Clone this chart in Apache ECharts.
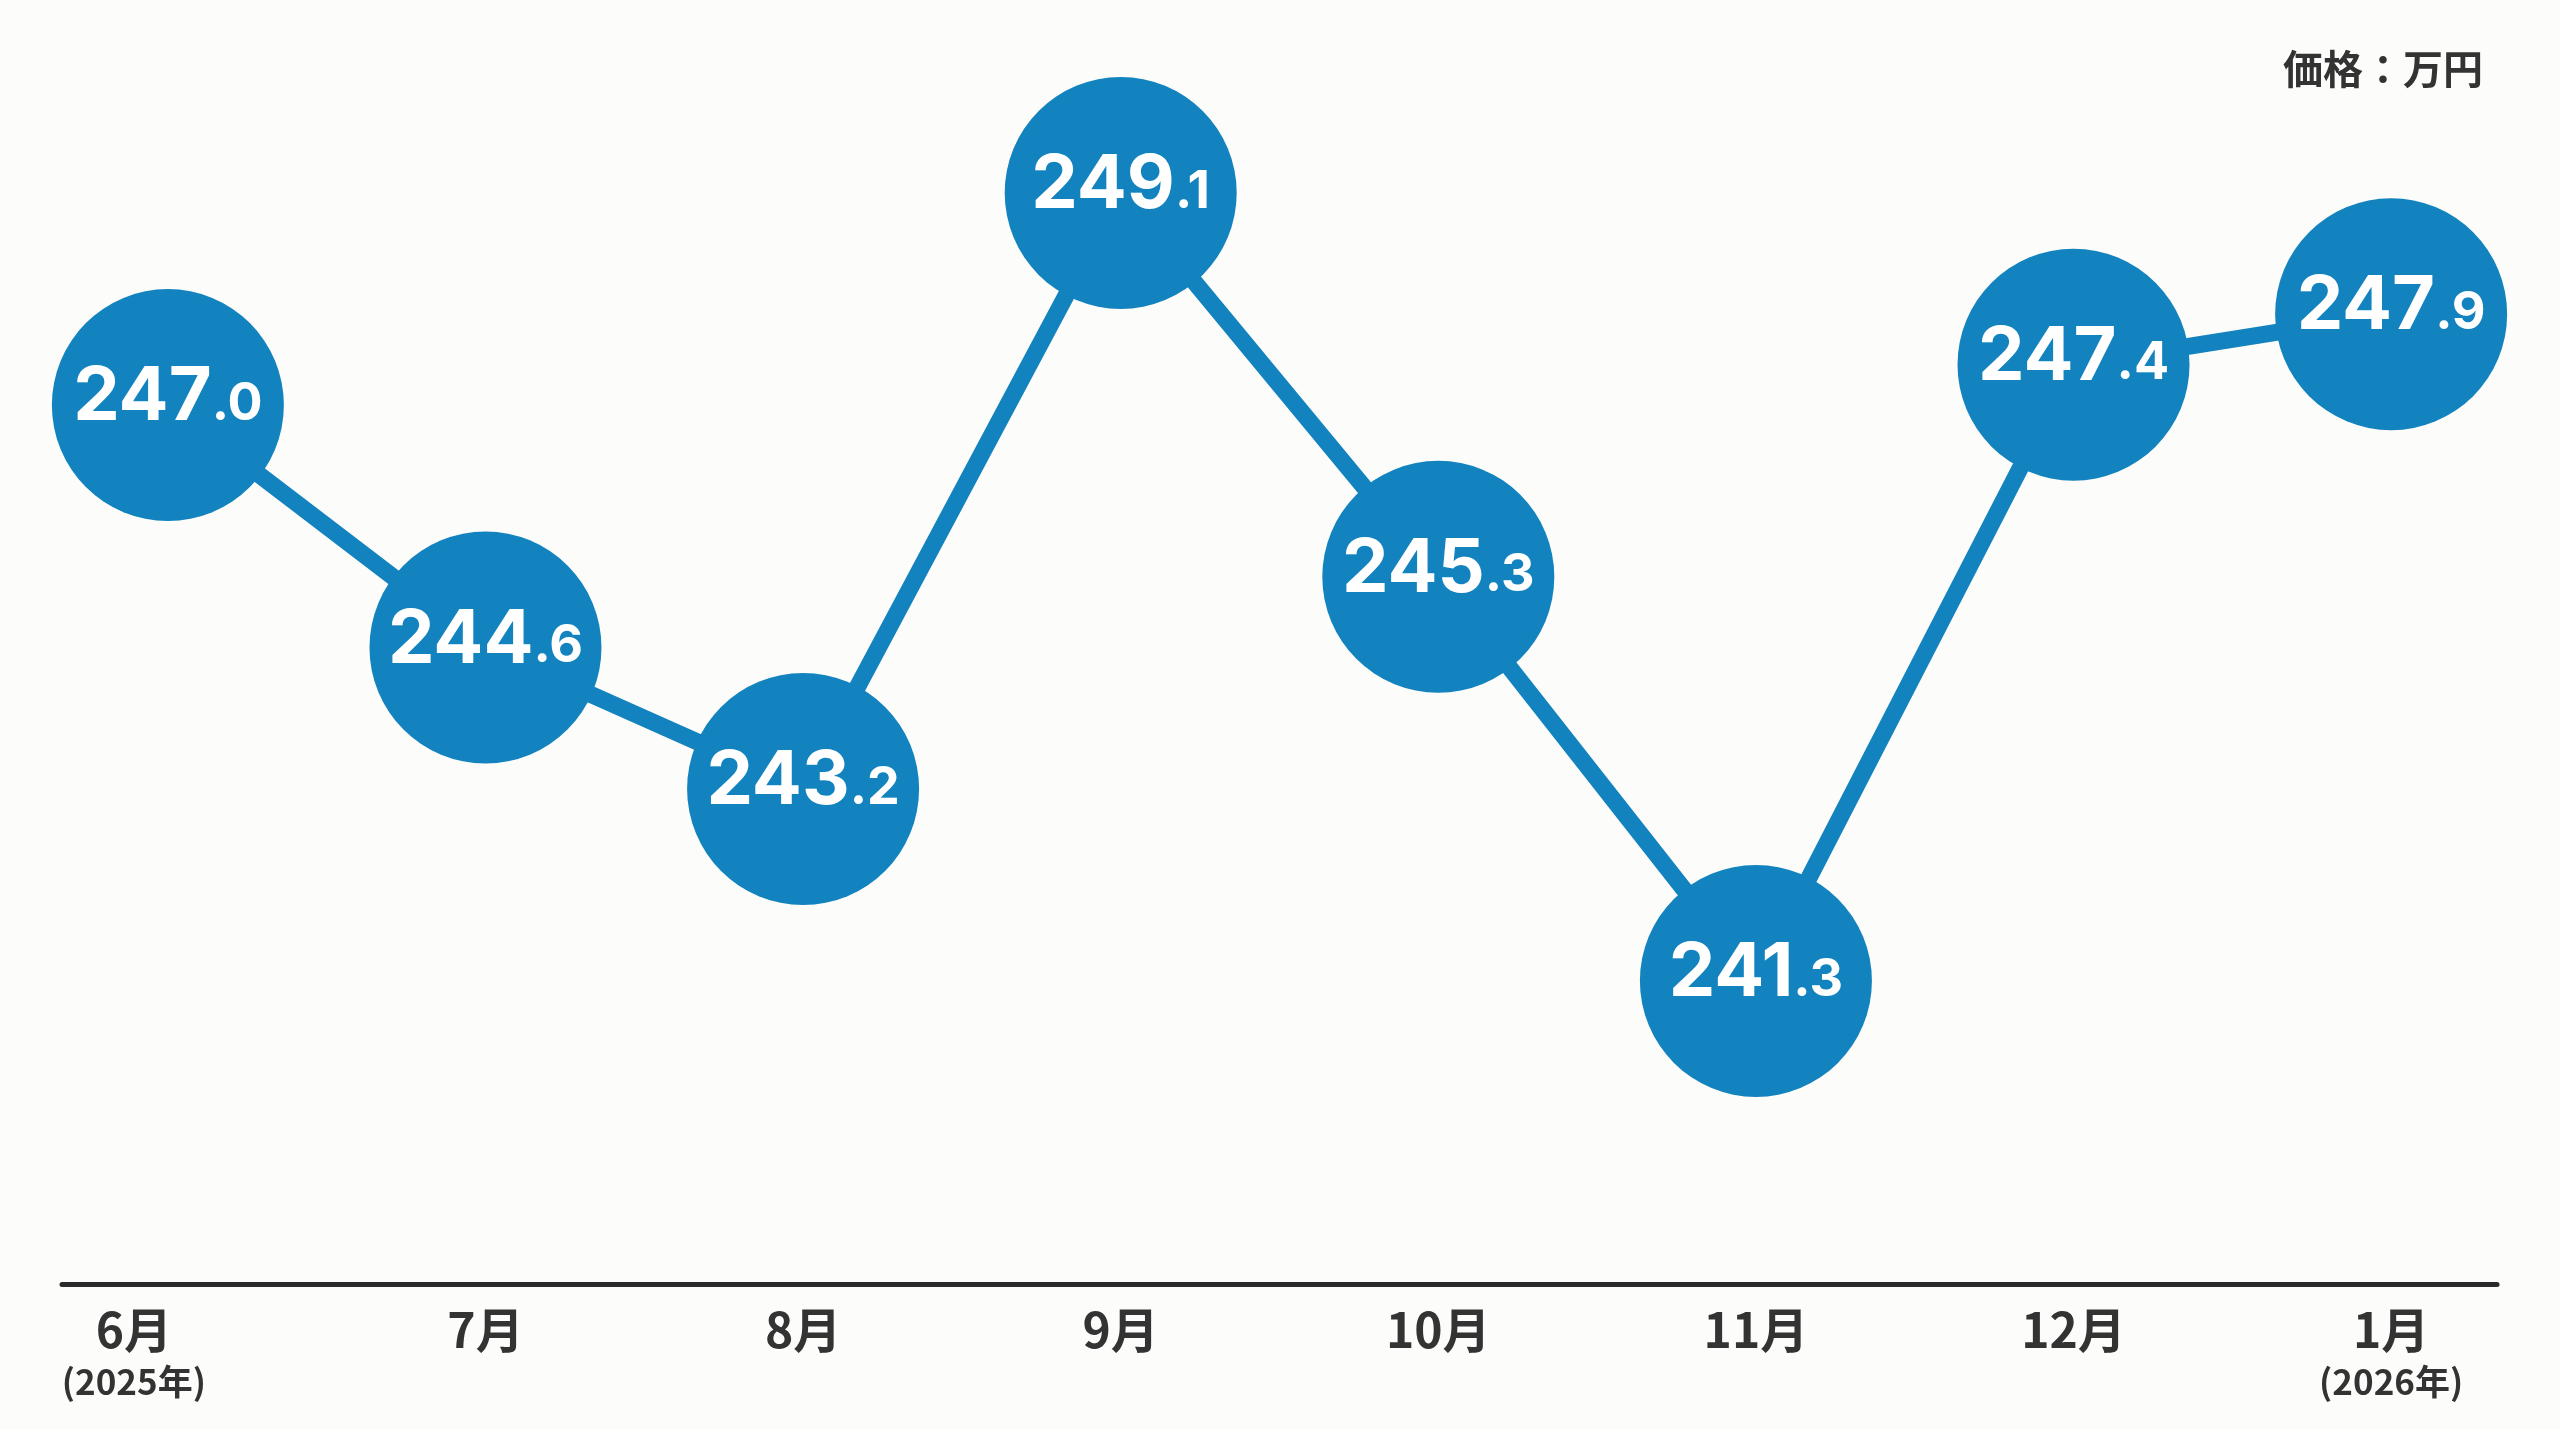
<!DOCTYPE html>
<html>
<head>
<meta charset="utf-8">
<script src="https://cdn.jsdelivr.net/npm/echarts@6/dist/echarts.min.js"></script>
<style>
html,body{margin:0;padding:0;background:#fcfcfa;}
#chart{width:2560px;height:1429px;}
</style>
</head>
<body>
<div id="chart"></div>
<script>
const months = ['6月', '7月', '8月', '9月', '10月', '11月', '12月', '1月'];
const yearNotes = ['2025年', '', '', '', '', '', '', '2026年'];
const prices = [247.0, 244.6, 243.2, 249.1, 245.3, 241.3, 247.4, 247.9];
const unitText = '価格：万円';

const seriesData = prices.map((v, i) => [i, v]);
const idx = months.map((m, i) => i);

const chart = echarts.init(document.getElementById('chart'));
chart.setOption({
  backgroundColor: '#fcfcfa',
  animation: false,
  title: {
    text: unitText,
    right: 72,
    top: 44,
    textStyle: {
      fontFamily: 'Noto Sans CJK JP',
      fontWeight: 'bold',
      fontSize: 40,
      color: '#333333'
    }
  },
  grid: { left: 62, right: 63, top: 102, bottom: 145 },
  xAxis: {
    type: 'value',
    min: -1 / 3,
    max: 7 + 1 / 3,
    splitLine: { show: false },
    axisTick: { show: false },
    axisLine: { show: true, onZero: false, lineStyle: { color: '#2a2a2a', width: 5 } },
    axisLabel: {
      customValues: idx,
      margin: 17,
      formatter: function (v) {
        const i = Math.round(v);
        const suffix = i === 0 ? '0' : '';
        let s = '{m' + suffix + '|' + months[i] + '}';
        if (yearNotes[i]) s += '\n{y' + suffix + '|(' + yearNotes[i] + ')}';
        return s;
      },
      rich: {
        m: { fontFamily: 'Noto Sans CJK JP', fontWeight: 'bold', fontSize: 48, lineHeight: 58, color: '#333333' },
        y: { fontFamily: 'Noto Sans CJK JP', fontWeight: 'bold', fontSize: 35, lineHeight: 46, color: '#333333' },
        m0: { fontFamily: 'Noto Sans CJK JP', fontWeight: 'bold', fontSize: 48, lineHeight: 58, color: '#333333', padding: [0, 68, 0, 0] },
        y0: { fontFamily: 'Noto Sans CJK JP', fontWeight: 'bold', fontSize: 35, lineHeight: 46, color: '#333333', padding: [0, 68, 0, 0] }
      }
    }
  },
  yAxis: {
    type: 'value',
    min: 238.3,
    max: 250,
    show: false,
    splitLine: { show: false }
  },
  series: [{
    type: 'line',
    data: seriesData,
    symbol: 'circle',
    symbolSize: 232,
    lineStyle: { color: '#1283bf', width: 17 },
    itemStyle: { color: '#1283bf' },
    label: {
      show: true,
      position: 'inside',
      formatter: function (p) {
        const s = p.value[1].toFixed(1);
        const parts = s.split('.');
        return '{a|' + parts[0] + '}{b|.' + parts[1] + '}';
      },
      rich: {
        a: { fontFamily: 'Inter', fontWeight: 'bold', fontSize: 74, color: '#ffffff', lineHeight: 60, verticalAlign: 'bottom' },
        b: { fontFamily: 'Inter', fontWeight: 'bold', fontSize: 52, color: '#ffffff', lineHeight: 42, verticalAlign: 'bottom', padding: [0, 0, 5, 0] }
      }
    }
  }]
});
</script>
</body>
</html>
